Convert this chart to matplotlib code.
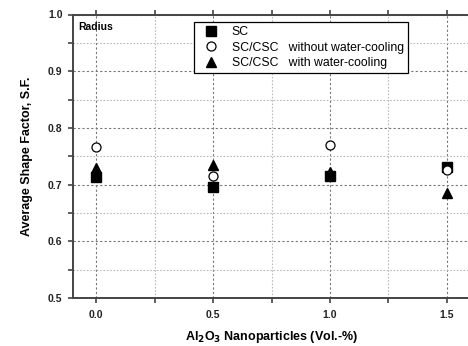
import matplotlib.pyplot as plt
from matplotlib.ticker import MultipleLocator

plt.rcParams["font.family"] = ["Liberation Sans", "DejaVu Sans"]

x = [0.0, 0.5, 1.0, 1.5]
sc = [0.713, 0.696, 0.716, 0.731]
without_wc = [0.766, 0.716, 0.769, 0.725]
with_wc = [0.729, 0.735, 0.722, 0.686]

fig = plt.figure(figsize=(4.68, 3.46), dpi=100)
ax = fig.add_axes([73 / 468, 1 - 298 / 346, 397 / 468, 283.5 / 346])

ax.plot(x, sc, "s", color="black", markersize=6.5, label="SC", zorder=3)
ax.plot(x, without_wc, "o", mfc="white", mec="black", mew=0.9, markersize=6.5,
        label="SC/CSC   without water-cooling", zorder=3)
ax.plot(x, with_wc, "^", color="black", markersize=7.5,
        label="SC/CSC   with water-cooling", zorder=3)

ax.set_xlim(-0.1, 1.6)
ax.set_ylim(0.5, 1.0)
ax.xaxis.set_major_locator(MultipleLocator(0.5))
ax.xaxis.set_minor_locator(MultipleLocator(0.25))
ax.yaxis.set_major_locator(MultipleLocator(0.1))
ax.yaxis.set_minor_locator(MultipleLocator(0.05))
ax.xaxis.set_major_formatter(lambda v, p: f"{v:.1f}")
ax.yaxis.set_major_formatter(lambda v, p: f"{v:.1f}")

ax.grid(which="major", color="#777777", linestyle=(0, (2, 2)), linewidth=0.8)
ax.grid(which="minor", color="#bbbbbb", linestyle=(0, (1.5, 1.5)), linewidth=0.8)

for s in ["left", "bottom", "top"]:
    ax.spines[s].set_color("#444444")
    ax.spines[s].set_linewidth(1.4)
ax.spines["right"].set_visible(False)

ax.tick_params(which="both", direction="out", color="#444444", width=1.2, length=3.6)
ax.tick_params(axis="x", which="major", pad=5)
ax.tick_params(axis="y", which="major", pad=4)
ax.tick_params(top=True, which="both")
for lbl in ax.get_xticklabels() + ax.get_yticklabels():
    lbl.set_fontweight("bold")
    lbl.set_fontsize(7.5)
    lbl.set_color("#222222")

ax.set_xlabel("Al$_\\mathbf{2}$O$_\\mathbf{3}$ Nanoparticles (Vol.-%)",
              fontsize=9, fontweight="bold", labelpad=6.5)
ax.set_ylabel("Average Shape Factor, S.F.", fontsize=9, fontweight="bold", labelpad=11)

ax.text(0.012, 0.975, "Radius", transform=ax.transAxes, fontsize=7.5,
        fontweight="bold", va="top", ha="left")

leg = ax.legend(loc="upper left", bbox_to_anchor=(0.29, 0.995), fontsize=8.8,
                frameon=True, fancybox=False, edgecolor="black", framealpha=1,
                borderpad=0.35, labelspacing=0.27, handletextpad=0.7,
                handlelength=2.0)
leg.get_frame().set_linewidth(0.9)

fig.savefig("out.png", dpi=100)
